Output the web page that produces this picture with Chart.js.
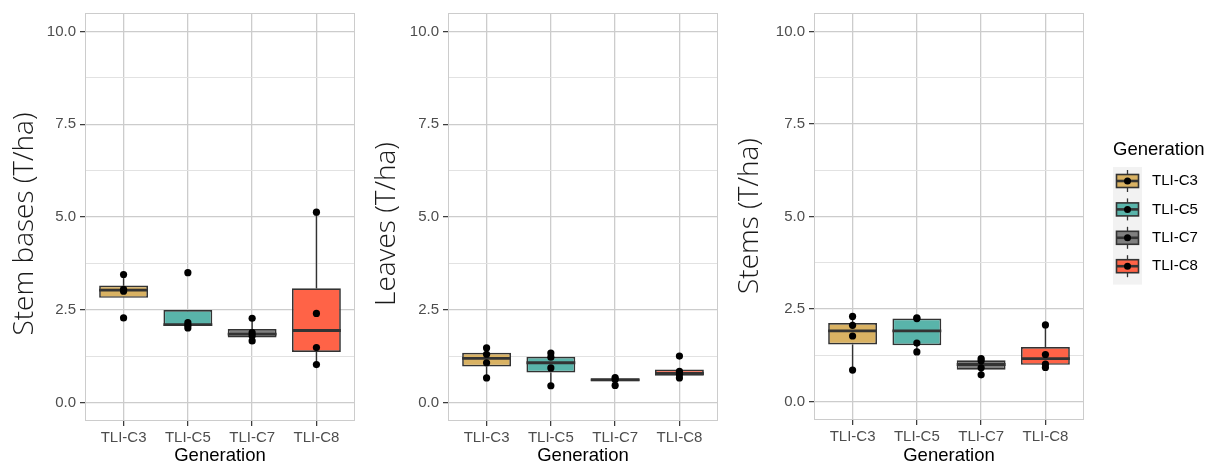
<!DOCTYPE html>
<html>
<head>
<meta charset="utf-8">
<script src="https://cdn.jsdelivr.net/npm/chart.js@4.4.1/dist/chart.umd.min.js"></script>
<style>
  body { margin: 0; background: #fff; width: 1207px; height: 469px; overflow: hidden; position: relative; }
  canvas { position: absolute; top: 0; }
</style>
</head>
<body>
<canvas id="stemBasesChart" width="362" height="469" style="left:0px"></canvas>
<canvas id="leavesChart" width="360" height="469" style="left:365px"></canvas>
<canvas id="stemsChart" width="482" height="469" style="left:725px"></canvas>
<script>
// categories + colours
const categories = ["TLI-C3", "TLI-C5", "TLI-C7", "TLI-C8"];
const fillColors = ["#D9B263", "#59B4AA", "#7F7F7F", "#FF6347"];
const yTickValues = [0, 2.5, 5, 7.5, 10];
const yMinorValues = [1.25, 3.75, 6.25, 8.75];

// Stem bases (T/ha)
const stemBasesQ1 = [2.82, 2.06, 1.75, 1.36];
const stemBasesMedian = [3.03, 2.10, 1.84, 1.94];
const stemBasesQ3 = [3.15, 2.49, 1.98, 3.08];
const stemBasesLow = [2.82, 2.00, 1.65, 1.02];
const stemBasesHigh = [3.45, 2.49, 2.27, 5.13];
const stemBasesPoints = [
  [3.45, 3.05, 3.00, 2.28],
  [3.50, 2.15, 2.08, 2.01],
  [2.27, 1.88, 1.80, 1.66],
  [5.13, 2.40, 1.48, 1.02],
];

// Leaves (T/ha)
const leavesQ1 = [0.97, 0.81, 0.57, 0.72];
const leavesMedian = [1.19, 1.07, 0.61, 0.78];
const leavesQ3 = [1.34, 1.23, 0.65, 0.89];
const leavesLow = [0.66, 0.45, 0.46, 0.65];
const leavesHigh = [1.47, 1.33, 0.67, 0.89];
const leavesPoints = [
  [1.47, 1.30, 1.07, 0.66],
  [1.33, 1.22, 0.93, 0.45],
  [0.67, 0.62, 0.46],
  [1.25, 0.84, 0.76, 0.66],
];

// Stems (T/ha)
const stemsQ1 = [1.54, 1.52, 0.86, 0.99];
const stemsMedian = [1.91, 1.91, 1.00, 1.16];
const stemsQ3 = [2.12, 2.245, 1.115, 1.47];
const stemsLow = [0.85, 1.34, 0.72, 0.92];
const stemsHigh = [2.30, 2.26, 1.16, 2.07];
const stemsPoints = [
  [2.30, 2.06, 1.77, 0.85],
  [2.26, 2.24, 1.58, 1.34],
  [1.16, 1.10, 0.91, 0.72],
  [2.07, 1.27, 1.01, 0.92],
];

Chart.defaults.font.family = '"Liberation Sans", Arial, sans-serif';

const lineCol = "#333333";

function isMajor(v) {
  return yTickValues.includes(v);
}

function boxPlugin(s) {
  return {
    id: "boxParts",
    beforeDatasetsDraw(chart) {
      const { ctx, scales: { x, y } } = chart;
      ctx.save();
      ctx.strokeStyle = lineCol;
      ctx.lineWidth = 1.4;
      s.low.forEach((lo, i) => {
        const px = x.getPixelForValue(i + 1);
        ctx.beginPath();
        ctx.moveTo(px, y.getPixelForValue(s.high[i]));
        ctx.lineTo(px, y.getPixelForValue(s.q3[i]));
        ctx.moveTo(px, y.getPixelForValue(s.q1[i]));
        ctx.lineTo(px, y.getPixelForValue(lo));
        ctx.stroke();
      });
      ctx.restore();
    },
    afterDatasetDraw(chart, args) {
      if (args.meta.type !== "bar") return;
      const { ctx, scales: { y } } = chart;
      ctx.save();
      ctx.strokeStyle = lineCol;
      ctx.lineWidth = 2.8;
      args.meta.data.forEach((bar, i) => {
        const py = y.getPixelForValue(s.median[i]);
        ctx.beginPath();
        ctx.moveTo(bar.x - bar.width / 2, py);
        ctx.lineTo(bar.x + bar.width / 2, py);
        ctx.stroke();
      });
      ctx.restore();
    },
    afterDraw(chart) {
      const { ctx, chartArea: a } = chart;
      ctx.save();
      // panel border
      ctx.strokeStyle = "#cccccc";
      ctx.lineWidth = 1;
      ctx.strokeRect(a.left + 0.5, a.top + 0.5, a.width - 1, a.height - 1);
      // y axis title
      ctx.translate(s.titleX, s.titleY);
      ctx.rotate(-Math.PI / 2);
      ctx.fillStyle = "#1a1a1a";
      ctx.font = '300 28px "Open Sans"';
      ctx.textAlign = "center";
      ctx.textBaseline = "middle";
      ctx.fillText(s.title, 0, 0);
      ctx.restore();

      if (s.legend) drawLegend(ctx, s.legend);
    },
  };
}

function drawLegend(ctx, L) {
  ctx.save();
  ctx.fillStyle = "#000";
  ctx.font = '18.5px "Liberation Sans", Arial, sans-serif';
  ctx.textBaseline = "middle";
  ctx.fillText("Generation", L.x, L.titleY);
  ctx.fillStyle = "#f2f2f2";
  ctx.fillRect(L.x, L.top, 29, L.rowH * categories.length + 4);
  categories.forEach((c, i) => {
    const cy = L.top + 14 + i * L.rowH;
    const cx = L.x + 14.5;
    ctx.strokeStyle = lineCol;
    ctx.lineWidth = 1.3;
    ctx.beginPath();
    ctx.moveTo(cx, cy - 11);
    ctx.lineTo(cx, cy + 11);
    ctx.stroke();
    ctx.fillStyle = fillColors[i];
    ctx.fillRect(cx - 11, cy - 6.5, 22, 13);
    ctx.lineWidth = 1.6;
    ctx.strokeRect(cx - 11, cy - 6.5, 22, 13);
    ctx.lineWidth = 2.6;
    ctx.beginPath();
    ctx.moveTo(cx - 11, cy);
    ctx.lineTo(cx + 11, cy);
    ctx.stroke();
    ctx.fillStyle = "#000";
    ctx.beginPath();
    ctx.arc(cx, cy, 3.5, 0, Math.PI * 2);
    ctx.fill();
    ctx.font = '15px "Liberation Sans", Arial, sans-serif';
    ctx.fillText(c, L.x + 39, cy);
  });
  ctx.restore();
}

function makeChart(id, s) {
  const boxes = categories.map((c, i) => ({ x: i + 1, y: [s.q1[i], s.q3[i]] }));
  const dots = [];
  s.points.forEach((arr, i) => arr.forEach((v) => dots.push({ x: i + 1, y: v })));

  return new Chart(document.getElementById(id), {
    type: "bar",
    data: {
      datasets: [
        {
          type: "scatter",
          data: dots,
          order: 0,
          pointRadius: 3.6,
          pointBackgroundColor: "#000",
          pointBorderWidth: 0,
        },
        {
          type: "bar",
          data: boxes,
          order: 1,
          backgroundColor: fillColors,
          borderColor: lineCol,
          borderWidth: 1.7,
          borderSkipped: false,
          barPercentage: 0.76,
          categoryPercentage: 1,
        },
      ],
    },
    options: {
      responsive: false,
      animation: false,
      layout: { padding: { left: 0, right: s.padRight, top: s.padTop, bottom: 0 } },
      plugins: { legend: { display: false }, tooltip: { enabled: false } },
      scales: {
        x: {
          type: "linear",
          min: 0.4,
          max: 4.6,
          offset: false,
          afterBuildTicks: (scale) => {
            scale.ticks = categories.map((c, i) => ({ value: i + 1 }));
          },
          afterFit: (scale) => {
            scale.height = s.xHeight;
          },
          ticks: {
            callback: (v) => categories[v - 1],
            color: "#4d4d4d",
            font: { size: 15 },
            padding: 3,
            autoSkip: false,
            maxRotation: 0,
          },
          grid: {
            offset: false,
            color: "#cccccc",
            lineWidth: 1.3,
            tickLength: 5,
            tickColor: lineCol,
            tickWidth: 1.2,
          },
          border: { display: false },
          title: {
            display: true,
            text: "Generation",
            color: "#000",
            font: { size: 18.5 },
            padding: { top: 0, bottom: 2 },
          },
        },
        y: {
          min: -0.5,
          max: 10.5,
          afterBuildTicks: (scale) => {
            scale.ticks = yTickValues.concat(yMinorValues).sort((a, b) => a - b).map((v) => ({ value: v }));
          },
          afterFit: (scale) => {
            scale.width = s.yWidth;
          },
          ticks: {
            callback: (v) => (isMajor(v) ? v.toFixed(1) : ""),
            color: "#4d4d4d",
            font: { size: 15 },
            padding: 4,
            autoSkip: false,
          },
          grid: {
            color: (ctx) => (ctx.tick && isMajor(ctx.tick.value) ? "#cccccc" : "#e2e2e2"),
            lineWidth: (ctx) => (ctx.tick && isMajor(ctx.tick.value) ? 1.3 : 1),
            tickLength: 5,
            tickColor: (ctx) => (ctx.tick && isMajor(ctx.tick.value) ? lineCol : "rgba(0,0,0,0)"),
            tickWidth: 1.2,
          },
          border: { display: false },
        },
      },
    },
    plugins: [boxPlugin(s)],
  });
}

makeChart("stemBasesChart", {
  q1: stemBasesQ1, median: stemBasesMedian, q3: stemBasesQ3,
  low: stemBasesLow, high: stemBasesHigh, points: stemBasesPoints,
  title: "Stem bases (T/ha)", titleX: 25, titleY: 224,
  yWidth: 85, padRight: 7, padTop: 5, xHeight: 48,
});

makeChart("leavesChart", {
  q1: leavesQ1, median: leavesMedian, q3: leavesQ3,
  low: leavesLow, high: leavesHigh, points: leavesPoints,
  title: "Leaves (T/ha)", titleX: 22.5, titleY: 224,
  yWidth: 83, padRight: 7, padTop: 5, xHeight: 48,
});

makeChart("stemsChart", {
  q1: stemsQ1, median: stemsMedian, q3: stemsQ3,
  low: stemsLow, high: stemsHigh, points: stemsPoints,
  title: "Stems (T/ha)", titleX: 25, titleY: 216,
  yWidth: 89, padRight: 123, padTop: 4, xHeight: 49,
  legend: { x: 388, titleY: 150, top: 167, rowH: 28.4 },
});
</script>
</body>
</html>
